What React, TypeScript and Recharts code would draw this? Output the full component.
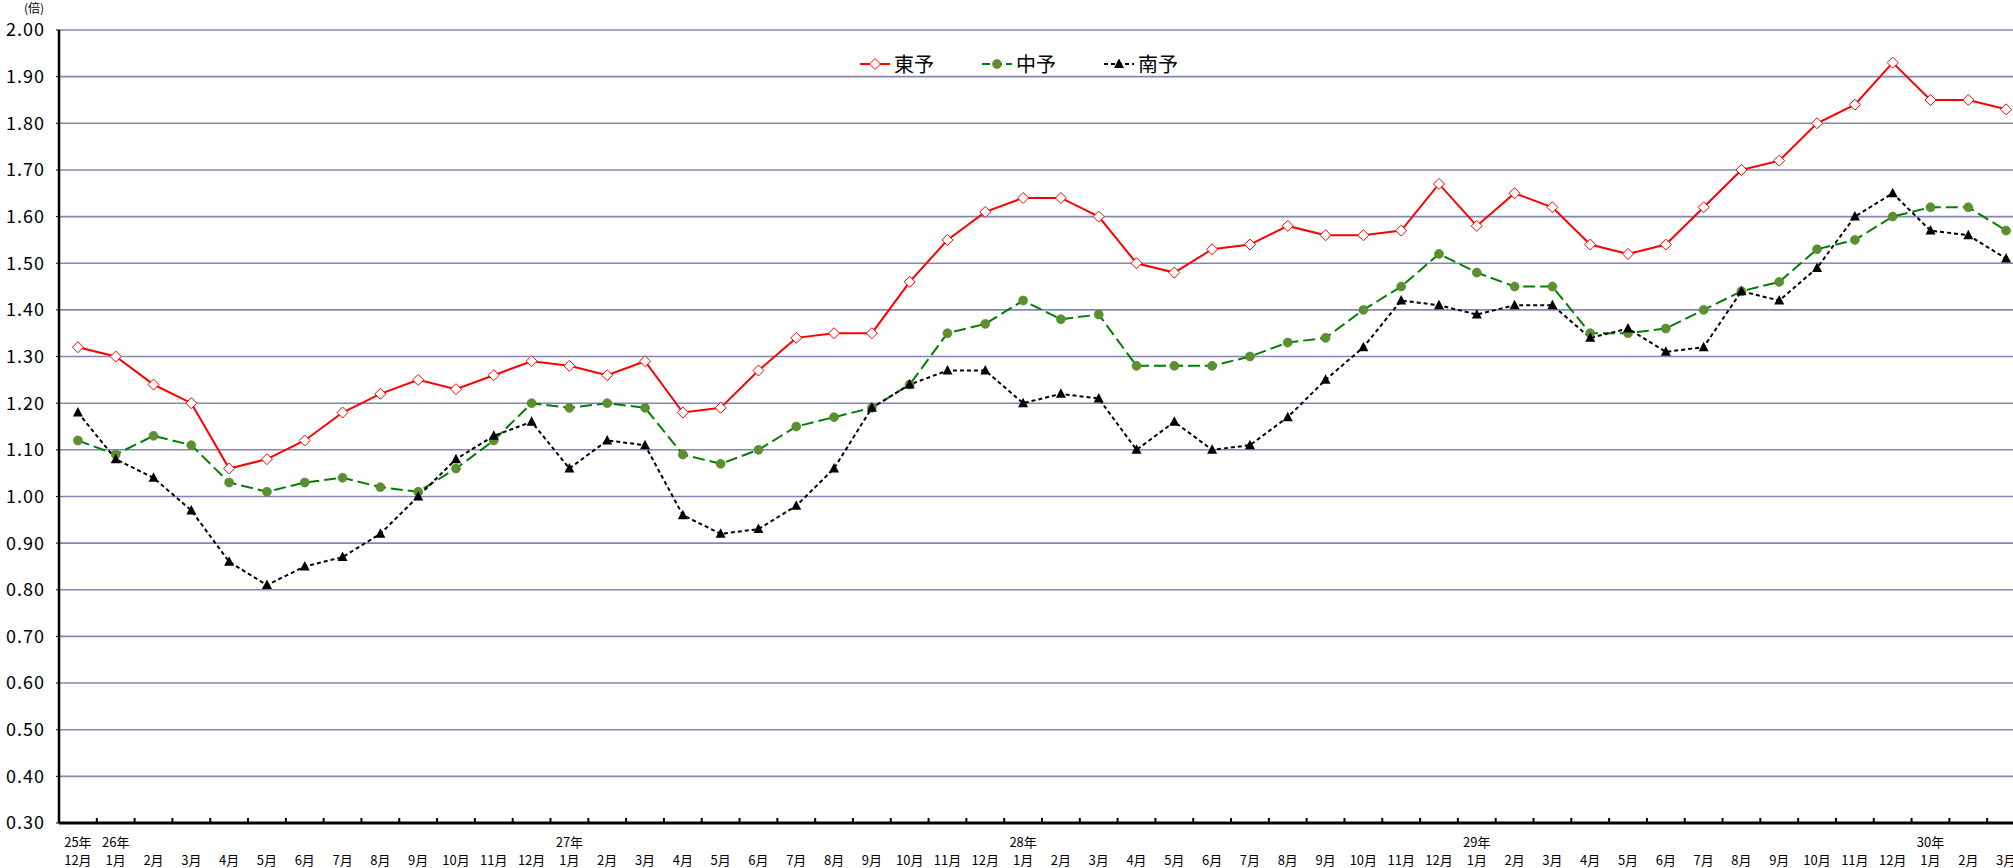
import React from 'react';
import { LineChart, Line, XAxis, YAxis, CartesianGrid } from 'recharts';

// 25年12月 〜 30年3月
const months = [
  '12月',
  '1月', '2月', '3月', '4月', '5月', '6月', '7月', '8月', '9月', '10月', '11月', '12月',
  '1月', '2月', '3月', '4月', '5月', '6月', '7月', '8月', '9月', '10月', '11月', '12月',
  '1月', '2月', '3月', '4月', '5月', '6月', '7月', '8月', '9月', '10月', '11月', '12月',
  '1月', '2月', '3月', '4月', '5月', '6月', '7月', '8月', '9月', '10月', '11月', '12月',
  '1月', '2月', '3月',
];
const years: Record<number, string> = { 0: '25年', 1: '26年', 13: '27年', 25: '28年', 37: '29年', 49: '30年' };

const toyo = [
  1.32, 1.30, 1.24, 1.20, 1.06, 1.08, 1.12, 1.18, 1.22, 1.25, 1.23, 1.26, 1.29,
  1.28, 1.26, 1.29, 1.18, 1.19, 1.27, 1.34, 1.35, 1.35, 1.46, 1.55, 1.61,
  1.64, 1.64, 1.60, 1.50, 1.48, 1.53, 1.54, 1.58, 1.56, 1.56, 1.57, 1.67,
  1.58, 1.65, 1.62, 1.54, 1.52, 1.54, 1.62, 1.70, 1.72, 1.80, 1.84, 1.93,
  1.85, 1.85, 1.83,
];
const chuyo = [
  1.12, 1.09, 1.13, 1.11, 1.03, 1.01, 1.03, 1.04, 1.02, 1.01, 1.06, 1.12, 1.20,
  1.19, 1.20, 1.19, 1.09, 1.07, 1.10, 1.15, 1.17, 1.19, 1.24, 1.35, 1.37,
  1.42, 1.38, 1.39, 1.28, 1.28, 1.28, 1.30, 1.33, 1.34, 1.40, 1.45, 1.52,
  1.48, 1.45, 1.45, 1.35, 1.35, 1.36, 1.40, 1.44, 1.46, 1.53, 1.55, 1.60,
  1.62, 1.62, 1.57,
];
const nanyo = [
  1.18, 1.08, 1.04, 0.97, 0.86, 0.81, 0.85, 0.87, 0.92, 1.00, 1.08, 1.13, 1.16,
  1.06, 1.12, 1.11, 0.96, 0.92, 0.93, 0.98, 1.06, 1.19, 1.24, 1.27, 1.27,
  1.20, 1.22, 1.21, 1.10, 1.16, 1.10, 1.11, 1.17, 1.25, 1.32, 1.42, 1.41,
  1.39, 1.41, 1.41, 1.34, 1.36, 1.31, 1.32, 1.44, 1.42, 1.49, 1.60, 1.65,
  1.57, 1.56, 1.51,
];

const yTicks = [0.3, 0.4, 0.5, 0.6, 0.7, 0.8, 0.9, 1.0, 1.1, 1.2, 1.3, 1.4, 1.5, 1.6, 1.7, 1.8, 1.9, 2.0];

const W = 2040;
const H = 868;
const LEFT = 59;
const RIGHT = 15;
const BAND = (W - LEFT - RIGHT) / months.length;
const FONT = '"Noto Sans CJK JP", "Noto Sans", sans-serif';

const data = months.map((m, i) => ({
  month: m,
  toyo: toyo[i],
  chuyo: chuyo[i],
  nanyo: nanyo[i],
}));

const Diamond = (props: any) => {
  const { cx, cy } = props;
  if (cx == null || cy == null) return null;
  return (
    <path
      d={`M${cx},${cy - 5.5} L${cx + 5.5},${cy} L${cx},${cy + 5.5} L${cx - 5.5},${cy} Z`}
      fill="#fff"
      stroke="#ff0000"
      strokeWidth={1}
    />
  );
};

const Dot = (props: any) => {
  const { cx, cy } = props;
  if (cx == null || cy == null) return null;
  return <circle cx={cx} cy={cy} r={4.5} fill="#5c8f30" stroke="#4f8228" strokeWidth={0.6} />;
};

const Tri = (props: any) => {
  const { cx, cy } = props;
  if (cx == null || cy == null) return null;
  return <path d={`M${cx},${cy - 5.5} L${cx + 5},${cy + 4} L${cx - 5},${cy + 4} Z`} fill="#000" />;
};

const MonthTick = (props: any) => {
  const { x, y, index } = props;
  const yr = years[index];
  return (
    <g>
      {index > 0 && (
        <line x1={x - BAND / 2} x2={x - BAND / 2} y1={y} y2={y - 5} stroke="#000" strokeWidth={2} />
      )}
      {yr && (
        <text x={x} y={y + 18} textAnchor="middle" dominantBaseline="central" fontSize={13} fill="#000" fontFamily={FONT}>
          {yr}
        </text>
      )}
      <text x={x} y={y + 36} textAnchor="middle" dominantBaseline="central" fontSize={13} fill="#000" fontFamily={FONT}>
        {months[index]}
      </text>
    </g>
  );
};

const legendItems = [
  { label: '東予', color: '#ff0000', dash: undefined, marker: 'diamond' },
  { label: '中予', color: '#008000', dash: '8 4', marker: 'circle' },
  { label: '南予', color: '#000', dash: '4 3', marker: 'tri' },
];

const LegendBox = () => (
  <div
    style={{
      position: 'absolute', left: 860, top: 49, display: 'flex', alignItems: 'center',
      fontFamily: FONT, fontSize: 20, color: '#000',
    }}
  >
    {legendItems.map((it) => (
      <div key={it.label} style={{ display: 'flex', alignItems: 'center', marginRight: 48 }}>
        <svg width={30} height={14} style={{ marginRight: 4 }}>
          <line x1={0} x2={30} y1={7} y2={7} stroke={it.color} strokeWidth={2} strokeDasharray={it.dash} />
          {it.marker === 'diamond' && <Diamond cx={15} cy={7} />}
          {it.marker === 'circle' && <Dot cx={15} cy={7} />}
          {it.marker === 'tri' && <Tri cx={15} cy={7} />}
        </svg>
        <span>{it.label}</span>
      </div>
    ))}
  </div>
);

export default function App() {
  return (
    <div style={{ position: 'fixed', left: 0, top: 0, width: 2013, height: 868, overflow: 'hidden', background: '#fff' }}>
      <LineChart width={W} height={H} data={data} margin={{ top: 30, right: RIGHT, left: 0, bottom: 0 }}>
        <CartesianGrid vertical={false} stroke="#8486b6" strokeWidth={1.6} />
        <XAxis
          dataKey="month"
          interval={0}
          height={45}
          padding={{ left: BAND / 2, right: BAND / 2 }}
          tickSize={0}
          tickMargin={0}
          tickLine={false}
          axisLine={{ stroke: '#000', strokeWidth: 3 }}
          tick={<MonthTick />}
        />
        <YAxis
          width={LEFT}
          domain={[0.3, 2.0]}
          ticks={yTicks}
          interval={0}
          tickFormatter={(v: number) => v.toFixed(2)}
          tickSize={3}
          tickMargin={11}
          tick={{ fontSize: 18, fill: '#000', fontFamily: FONT, letterSpacing: 1 }}
          tickLine={{ stroke: '#000' }}
          axisLine={{ stroke: '#000', strokeWidth: 2.5 }}
        />
        <Line dataKey="toyo" name="東予" stroke="#ff0000" strokeWidth={2} dot={<Diamond />} isAnimationActive={false} />
        <Line dataKey="chuyo" name="中予" stroke="#008000" strokeWidth={2} strokeDasharray="12 5" dot={<Dot />} isAnimationActive={false} />
        <Line dataKey="nanyo" name="南予" stroke="#000" strokeWidth={2} strokeDasharray="4 3" dot={<Tri />} isAnimationActive={false} />
      </LineChart>
      <div style={{ position: 'absolute', left: 24, top: 1, fontSize: 12, lineHeight: '13px', fontFamily: FONT }}>(倍)</div>
      <LegendBox />
    </div>
  );
}
